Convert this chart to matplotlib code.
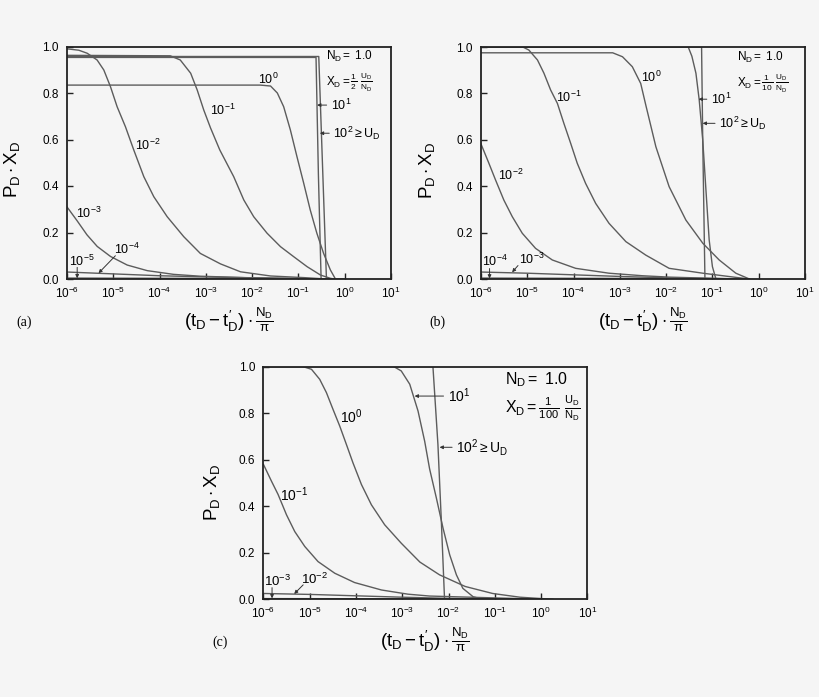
import matplotlib
matplotlib.use('Agg')
import matplotlib.pyplot as plt
from matplotlib.ticker import NullLocator, FixedLocator, FormatStrFormatter, LogFormatterSciNotation

plt.rcParams['font.family'] = ['Liberation Sans', 'DejaVu Sans']
plt.rcParams['mathtext.fontset'] = 'custom'
plt.rcParams['mathtext.rm'] = 'Liberation Sans'
plt.rcParams['mathtext.it'] = 'Liberation Sans'
plt.rcParams['mathtext.bf'] = 'Liberation Sans:bold'
plt.rcParams['mathtext.sf'] = 'Liberation Sans'

# ---------------- data: panel (a)  X_D = 1/2 U_D/N_D ----------------
a_u1e5_t = [1e-6, 1e-4, 1e-2, 1e-1, 1.0]
a_u1e5_p = [0.004, 0.003, 0.002, 0.001, 0.0]
a_u1e4_t = [1e-6, 1e-5, 1e-4, 1e-3, 1e-2, 1e-1, 0.5]
a_u1e4_p = [0.030, 0.022, 0.014, 0.009, 0.005, 0.002, 0.0]
a_u1e3_t = [1e-6, 1.66e-6, 2.7e-6, 4.5e-6, 8.7e-6, 2e-5, 5.4e-5, 2e-4, 7.6e-4, 1e-2, 1e-1, 0.5]
a_u1e3_p = [0.31, 0.25, 0.19, 0.14, 0.097, 0.06, 0.036, 0.02, 0.012, 0.005, 0.002, 0.0]
a_u1e2_t = [1e-6, 1.8e-6, 2.73e-6, 4.47e-6, 6.24e-6, 8.7e-6, 1.21e-5, 1.83e-5, 2.77e-5, 4.57e-5,
            7.5e-5, 1.46e-4, 3.33e-4, 7.6e-4, 2.07e-3, 5.6e-3, 2.5e-2, 0.13, 0.4]
a_u1e2_p = [0.99, 0.984, 0.971, 0.942, 0.899, 0.827, 0.741, 0.655, 0.555, 0.44,
            0.354, 0.268, 0.182, 0.11, 0.065, 0.031, 0.013, 0.006, 0.0]
a_u1e1_t = [1e-6, 1.7e-4, 2.8e-4, 4.7e-4, 6.5e-4, 9.0e-4, 1.26e-3, 2.0e-3, 4.0e-3, 6.6e-3,
            1.08e-2, 2.1e-2, 4.1e-2, 7.9e-2, 0.154, 0.3, 0.49, 0.6]
a_u1e1_p = [0.962, 0.96, 0.942, 0.885, 0.813, 0.727, 0.65, 0.555, 0.44, 0.34,
            0.268, 0.197, 0.139, 0.096, 0.053, 0.017, 0.003, 0.0]
a_u1_t = [1e-6, 1.5e-2, 2.5e-2, 3.5e-2, 4.8e-2, 6.7e-2, 9.3e-2, 0.13, 0.18, 0.25, 0.35, 0.49, 0.63]
a_u1_p = [0.834, 0.834, 0.83, 0.80, 0.741, 0.641, 0.526, 0.412, 0.297, 0.197, 0.11, 0.039, 0.0]
a_u10_t = [1e-6, 0.24, 0.27, 0.309]
a_u10_p = [0.953, 0.953, 0.45, 0.0]
a_u100_t = [1e-6, 0.275, 0.33, 0.403]
a_u100_p = [0.957, 0.957, 0.50, 0.0]

# ---------------- data: panel (b)  X_D = 1/10 U_D/N_D ----------------
b_u1e4_t = [1e-6, 1e-2, 0.3]
b_u1e4_p = [0.004, 0.002, 0.0]
b_u1e3_t = [1e-6, 1e-5, 1e-4, 1e-3, 1e-2, 1e-1, 0.5]
b_u1e3_p = [0.030, 0.025, 0.018, 0.011, 0.005, 0.002, 0.0]
b_u1e2_t = [1e-6, 1.48e-6, 2.06e-6, 3.12e-6, 4.73e-6, 7.8e-6, 1.51e-5, 3.47e-5, 1.11e-4, 5.8e-4,
            3.1e-3, 1.2e-2, 0.1, 0.5]
b_u1e2_p = [0.582, 0.499, 0.427, 0.34, 0.269, 0.197, 0.132, 0.082, 0.046, 0.025,
            0.014, 0.008, 0.003, 0.0]
b_u1e1_t = [1e-6, 8e-6, 1.08e-5, 1.66e-5, 2.29e-5, 3.19e-5, 4.47e-5, 6.17e-5, 8.65e-5, 1.2e-4,
            1.82e-4, 3.0e-4, 5.83e-4, 1.35e-3, 3.63e-3, 1.16e-2, 6.2e-2, 0.32, 0.63]
b_u1e1_p = [1.0, 1.0, 0.987, 0.944, 0.887, 0.815, 0.757, 0.671, 0.585, 0.499,
            0.412, 0.326, 0.24, 0.161, 0.103, 0.046, 0.025, 0.007, 0.0]
b_u1_t = [1e-6, 7e-4, 1.14e-3, 1.86e-3, 2.82e-3, 3.63e-3, 6.0e-3, 1.16e-2, 2.67e-2, 6.2e-2,
          0.14, 0.32, 0.63]
b_u1_p = [0.975, 0.975, 0.958, 0.915, 0.843, 0.75, 0.57, 0.398, 0.254, 0.154,
          0.082, 0.025, 0.0]
b_u10_t = [1e-6, 0.030, 0.036, 0.044, 0.0518, 0.0617, 0.0724, 0.0851, 0.1, 0.119]
b_u10_p = [1.0, 1.0, 0.96, 0.887, 0.772, 0.6, 0.384, 0.168, 0.053, 0.0]
b_u100_t = [1e-6, 0.0583, 0.0617, 0.0689]
b_u100_p = [1.0, 1.0, 0.6, 0.0]

# ---------------- data: panel (c)  X_D = 1/100 U_D/N_D ----------------
c_u1e3_t = [1e-6, 1e-2, 1.0]
c_u1e3_p = [0.003, 0.002, 0.0]
c_u1e2_t = [1e-6, 1e-5, 1e-4, 1e-3, 1e-2, 1e-1, 1.0]
c_u1e2_p = [0.025, 0.021, 0.015, 0.009, 0.004, 0.001, 0.0]
c_u1e1_t = [1e-6, 1.49e-6, 2.07e-6, 3.14e-6, 4.74e-6, 7.8e-6, 1.51e-5, 3.47e-5, 9.3e-5, 3.55e-4,
            1.33e-3, 3.9e-3, 6.6e-2, 0.34, 1.0]
c_u1e1_p = [0.579, 0.507, 0.45, 0.363, 0.291, 0.227, 0.162, 0.112, 0.072, 0.04,
            0.022, 0.014, 0.007, 0.003, 0.0]
c_u1_t = [1e-6, 7e-6, 1.09e-5, 1.64e-5, 2.29e-5, 3.18e-5, 4.45e-5, 6.2e-5, 8.6e-5, 1.31e-4,
          2.15e-4, 4.17e-4, 9.5e-4, 2.4e-3, 6.4e-3, 2.3e-2, 9e-2, 0.35, 1.8]
c_u1_p = [1.0, 1.0, 0.988, 0.945, 0.888, 0.816, 0.744, 0.665, 0.586, 0.493,
          0.406, 0.32, 0.241, 0.16, 0.105, 0.055, 0.025, 0.009, 0.0]
c_u10_t = [1e-6, 6.5e-4, 9.5e-4, 1.45e-3, 2.19e-3, 3.05e-3, 3.9e-3, 5.46e-3, 7.6e-3, 1.06e-2,
           1.48e-2, 2.04e-2, 3.4e-2, 5.5e-2]
c_u10_p = [1.0, 1.0, 0.981, 0.924, 0.809, 0.679, 0.56, 0.435, 0.306, 0.191,
           0.105, 0.047, 0.011, 0.0]
c_u100_t = [1e-6, 4.6e-3, 5.9e-3, 7.0e-3, 8.2e-3]
c_u100_p = [1.0, 1.0, 0.665, 0.334, 0.0]

panel_a = [(a_u1e5_t, a_u1e5_p), (a_u1e4_t, a_u1e4_p), (a_u1e3_t, a_u1e3_p), (a_u1e2_t, a_u1e2_p),
           (a_u1e1_t, a_u1e1_p), (a_u1_t, a_u1_p), (a_u10_t, a_u10_p), (a_u100_t, a_u100_p)]
panel_b = [(b_u1e4_t, b_u1e4_p), (b_u1e3_t, b_u1e3_p), (b_u1e2_t, b_u1e2_p), (b_u1e1_t, b_u1e1_p),
           (b_u1_t, b_u1_p), (b_u10_t, b_u10_p), (b_u100_t, b_u100_p)]
panel_c = [(c_u1e3_t, c_u1e3_p), (c_u1e2_t, c_u1e2_p), (c_u1e1_t, c_u1e1_p), (c_u1_t, c_u1_p),
           (c_u10_t, c_u10_p), (c_u100_t, c_u100_p)]

x_ticks = [1e-6, 1e-5, 1e-4, 1e-3, 1e-2, 1e-1, 1e0, 1e1]
y_ticks = [0.0, 0.2, 0.4, 0.6, 0.8, 1.0]

BG = '#f5f5f5'
LC = '#5c5c5c'
AC = '#333333'

fig = plt.figure(figsize=(8.2, 6.97), dpi=100, facecolor=BG)

W, H = 820.0, 697.0
def add_ax(l, t, r, b):
    return fig.add_axes([l / W, 1 - b / H, (r - l) / W, (b - t) / H], facecolor=BG)

ax_a = add_ax(67, 46.5, 391, 279)
ax_b = add_ax(481, 47, 805, 279)
ax_c = add_ax(263.5, 366.5, 587.3, 599.3)


def style(ax, ylab_x, ylab_y=0.47):
    ax.set_xscale('log')
    ax.set_xlim(1e-6, 1e1)
    ax.set_ylim(0, 1)
    ax.xaxis.set_major_locator(FixedLocator(x_ticks))
    ax.xaxis.set_minor_locator(NullLocator())
    ax.xaxis.set_major_formatter(LogFormatterSciNotation())
    ax.yaxis.set_major_locator(FixedLocator(y_ticks))
    ax.yaxis.set_major_formatter(FormatStrFormatter('%.1f'))
    ax.tick_params(axis='both', direction='in', length=4, width=1.0, labelsize=8.5, color='#222')
    ax.tick_params(axis='x', pad=5)
    ax.tick_params(axis='y', pad=6)
    for s in ax.spines.values():
        s.set_linewidth(1.3)
        s.set_color('#222')
    ax.set_ylabel(r'$P_D \cdot X_D$', fontsize=13.5)
    ax.yaxis.set_label_coords(ylab_x, ylab_y)
    ax.set_xlabel(r"$(t_D - t^{\prime}_D)\cdot\frac{N_D}{\pi}$", fontsize=13.5)
    ax.xaxis.set_label_coords(0.5, -0.175)
    ax.xaxis.label.set_va('center')


def draw(ax, curves):
    for t, p in curves:
        ax.plot(t, p, color=LC, lw=1.0)


def lab(ax, s, x, y, fs=9):
    ax.text(x, y, s, ha='center', va='center', fontsize=fs)


def pointer(ax, start, tip):
    ax.annotate('', xy=tip, xytext=start,
                arrowprops=dict(arrowstyle='-|>', color=AC, lw=0.7,
                                mutation_scale=5, shrinkA=0, shrinkB=0))


def arr(ax, s, xy, xyt, fs=9):
    ax.annotate(s, xy=xy, xytext=xyt, ha='left', va='center', fontsize=fs,
                arrowprops=dict(arrowstyle='-|>', color=AC, lw=0.7,
                                mutation_scale=5, shrinkA=1, shrinkB=0))


# ---- panel (a)
style(ax_a, -0.139)
draw(ax_a, panel_a)
lab(ax_a, r'$10^{0}$', 0.0225, 0.86)
lab(ax_a, r'$10^{-1}$', 2.28e-3, 0.727)
lab(ax_a, r'$10^{-2}$', 5.5e-5, 0.576)
lab(ax_a, r'$10^{-3}$', 2.9e-6, 0.284)
lab(ax_a, r'$10^{-4}$', 1.93e-5, 0.128)
pointer(ax_a, (1.11e-5, 0.10), (4.8e-6, 0.025))
lab(ax_a, r'$10^{-5}$', 2.06e-6, 0.076)
pointer(ax_a, (1.66e-6, 0.050), (1.66e-6, 0.003))
arr(ax_a, r'$10^{1}$', (0.253, 0.748), (0.50, 0.748))
arr(ax_a, r'$10^{2} \geq U_D$', (0.29, 0.627), (0.57, 0.627))
ax_a.text(0.80, 0.958, r'$N_D =\ 1.0$', transform=ax_a.transAxes, fontsize=8.5, va='center')
ax_a.text(0.80, 0.847, r'$X_D = \frac{1}{2}\ \frac{U_D}{N_D}$', transform=ax_a.transAxes,
          fontsize=8.5, va='center')

# ---- panel (b)
style(ax_b, -0.136)
draw(ax_b, panel_b)
lab(ax_b, r'$10^{-1}$', 7.8e-5, 0.784)
lab(ax_b, r'$10^{-2}$', 4.35e-6, 0.448)
lab(ax_b, r'$10^{0}$', 4.67e-3, 0.871)
lab(ax_b, r'$10^{-4}$', 1.96e-6, 0.076)
pointer(ax_b, (1.53e-6, 0.045), (1.53e-6, 0.002))
lab(ax_b, r'$10^{-3}$', 1.25e-5, 0.085)
pointer(ax_b, (6.3e-6, 0.058), (4.7e-6, 0.029))
arr(ax_b, r'$10^{1}$', (0.0502, 0.775), (0.093, 0.775))
arr(ax_b, r'$10^{2} \geq U_D$', (0.0614, 0.671), (0.14, 0.671))
ax_b.text(0.79, 0.953, r'$N_D =\ 1.0$', transform=ax_b.transAxes, fontsize=8.5, va='center')
ax_b.text(0.79, 0.845, r'$X_D = \frac{1}{10}\ \frac{U_D}{N_D}$', transform=ax_b.transAxes,
          fontsize=8.5, va='center')

# ---- panel (c)
style(ax_c, -0.128, 0.46)
draw(ax_c, panel_c)
lab(ax_c, r'$10^{0}$', 8.07e-5, 0.786, fs=10)
lab(ax_c, r'$10^{-1}$', 4.5e-6, 0.45, fs=10)
lab(ax_c, r'$10^{-3}$', 2.04e-6, 0.078, fs=9.5)
pointer(ax_c, (1.53e-6, 0.050), (1.53e-6, 0.004))
lab(ax_c, r'$10^{-2}$', 1.25e-5, 0.086, fs=9.5)
pointer(ax_c, (7.2e-6, 0.062), (4.6e-6, 0.023))
arr(ax_c, r'$10^{1}$', (1.85e-3, 0.873), (9.6e-3, 0.873), fs=10)
arr(ax_c, r'$10^{2} \geq U_D$', (6.4e-3, 0.653), (0.0147, 0.653), fs=10)
ax_c.text(0.746, 0.945, r'$N_D =\ 1.0$', transform=ax_c.transAxes, fontsize=11.5, va='center')
ax_c.text(0.746, 0.822, r'$X_D = \frac{1}{100}\ \frac{U_D}{N_D}$', transform=ax_c.transAxes,
          fontsize=11.5, va='center')

# panel tags
fig.text(24 / W, 1 - 322 / H, '(a)', family='Liberation Serif', fontsize=10, ha='center', va='center')
fig.text(437 / W, 1 - 322 / H, '(b)', family='Liberation Serif', fontsize=10, ha='center', va='center')
fig.text(220 / W, 1 - 642 / H, '(c)', family='Liberation Serif', fontsize=10, ha='center', va='center')

fig.savefig('out.png', dpi=100, facecolor=BG)
